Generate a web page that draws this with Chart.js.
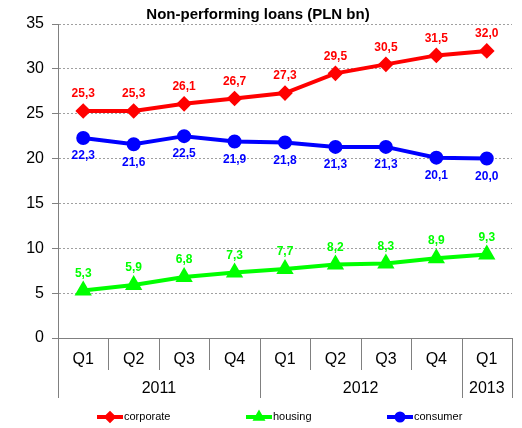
<!DOCTYPE html>
<html>
<head>
<meta charset="utf-8">
<script src="https://cdn.jsdelivr.net/npm/chart.js@4"></script>
<style>
  html, body { margin: 0; padding: 0; background: #fff; }
  #wrap { width: 522px; height: 428px; }
</style>
</head>
<body>
<div id="wrap"><canvas id="c" width="522" height="428"></canvas></div>
<script>
// Non-performing loans by segment, PLN bn
const quarters = ['Q1', 'Q2', 'Q3', 'Q4', 'Q1', 'Q2', 'Q3', 'Q4', 'Q1'];
const years = ['2011', '2012', '2013'];
const yearSpans = [4, 4, 1];
const corporate = [25.3, 25.3, 26.1, 26.7, 27.3, 29.5, 30.5, 31.5, 32.0];
const housing = [5.3, 5.9, 6.8, 7.3, 7.7, 8.2, 8.3, 8.9, 9.3];
const consumer = [22.3, 21.6, 22.5, 21.9, 21.8, 21.3, 21.3, 20.1, 20.0];
const yTicks = [0, 5, 10, 15, 20, 25, 30, 35];

const FONT = '"Liberation Sans", Arial, sans-serif';
const RED = '#ff0000', GREEN = '#00ff00', BLUE = '#0000ff';
const AXIS = '#808080';

const fmt = v => v.toFixed(1).replace('.', ',');

// value labels: above or below each point
const valueLabels = {
  id: 'valueLabels',
  afterDatasetsDraw(chart) {
    const ctx = chart.ctx;
    ctx.save();
    ctx.font = 'bold 12px ' + FONT;
    ctx.textAlign = 'center';
    ctx.textBaseline = 'middle';
    chart.data.datasets.forEach((ds, i) => {
      const meta = chart.getDatasetMeta(i);
      ctx.fillStyle = ds.borderColor;
      meta.data.forEach((pt, j) => {
        const dy = ds.labelPos === 'below' ? 18 : -17;
        ctx.fillText(fmt(ds.data[j]), pt.x, pt.y + dy);
      });
    });
    ctx.restore();
  }
};

// title, two-level category axis and legend
const frame = {
  id: 'frame',
  afterDraw(chart) {
    const ctx = chart.ctx;
    const x = chart.scales.x;
    const area = chart.chartArea;
    const bottom = area.bottom;
    ctx.save();

    // title
    ctx.fillStyle = '#000';
    ctx.font = 'bold 15px ' + FONT;
    ctx.textAlign = 'center';
    ctx.textBaseline = 'middle';
    ctx.fillText('Non-performing loans (PLN bn)', 258, 15);

    // x axis line
    ctx.strokeStyle = AXIS;
    ctx.lineWidth = 1;
    ctx.beginPath();
    ctx.moveTo(area.left, bottom + 0.5);
    ctx.lineTo(area.right, bottom + 0.5);
    ctx.stroke();

    const n = quarters.length;
    const half = (x.getPixelForValue(1) - x.getPixelForValue(0)) / 2;
    const edge = i => Math.round(x.getPixelForValue(i) - half) + 0.5;

    // quarter separators
    const yearEdges = [0];
    yearSpans.reduce((a, s) => { yearEdges.push(a + s); return a + s; }, 0);
    for (let i = 0; i <= n; i++) {
      const isYear = yearEdges.includes(i);
      ctx.beginPath();
      ctx.moveTo(edge(i), bottom);
      ctx.lineTo(edge(i), isYear ? bottom + 60 : bottom + 32);
      ctx.stroke();
    }

    // quarter labels
    ctx.fillStyle = '#000';
    ctx.font = '16px ' + FONT;
    quarters.forEach((q, i) => {
      ctx.fillText(q, x.getPixelForValue(i), bottom + 22);
    });

    // year labels (clipped at the bottom of the axis block)
    ctx.save();
    ctx.beginPath();
    ctx.rect(0, bottom, chart.width, 59);
    ctx.clip();
    let start = 0;
    years.forEach((yr, k) => {
      const end = start + yearSpans[k] - 1;
      const cx = (x.getPixelForValue(start) + x.getPixelForValue(end)) / 2;
      ctx.fillText(yr, cx, bottom + 51);
      start = end + 1;
    });
    ctx.restore();

    // legend
    const items = [
      { x: 97, ds: 0 },
      { x: 246, ds: 1 },
      { x: 387, ds: 2 }
    ];
    const ly = 417;
    items.forEach(it => {
      const ds = chart.data.datasets[it.ds];
      ctx.strokeStyle = ds.borderColor;
      ctx.fillStyle = ds.borderColor;
      ctx.lineWidth = 4;
      ctx.beginPath();
      ctx.moveTo(it.x, ly);
      ctx.lineTo(it.x + 26, ly);
      ctx.stroke();
      Chart.helpers.drawPoint(ctx, { pointStyle: ds.pointStyle, radius: 3.5, borderWidth: 1 }, it.x + 13, ly);
      ctx.fillStyle = '#000';
      ctx.font = '11px ' + FONT;
      ctx.textAlign = 'left';
      ctx.fillText(ds.label, it.x + 27, ly);
    });

    ctx.restore();
  }
};

new Chart(document.getElementById('c'), {
  type: 'line',
  data: {
    labels: quarters,
    datasets: [
      {
        label: 'corporate', data: corporate, borderColor: RED, backgroundColor: RED,
        pointStyle: 'rectRot', pointRadius: 5, borderWidth: 4, labelPos: 'above'
      },
      {
        label: 'housing', data: housing, borderColor: GREEN, backgroundColor: GREEN,
        pointStyle: 'triangle', pointRadius: 6, borderWidth: 4, labelPos: 'above'
      },
      {
        label: 'consumer', data: consumer, borderColor: BLUE, backgroundColor: BLUE,
        pointStyle: 'circle', pointRadius: 5, borderWidth: 4, labelPos: 'below'
      }
    ]
  },
  options: {
    responsive: false,
    animation: false,
    layout: { padding: { top: 24, right: 10, bottom: 90, left: 0 } },
    plugins: { legend: { display: false }, title: { display: false }, tooltip: { enabled: false } },
    elements: { line: { tension: 0 }, point: { borderWidth: 1, hoverRadius: 5 } },
    scales: {
      x: { type: 'category', offset: true, display: false },
      y: {
        min: 0, max: 35,
        afterFit(s) { s.width = 58; },
        afterBuildTicks(s) { s.ticks = yTicks.map(v => ({ value: v })); },
        ticks: { font: { size: 16, family: FONT }, color: '#000', padding: 8 },
        grid: { color: '#a0a0a0', tickColor: AXIS, tickLength: 6, tickBorderDash: [] },
        border: { display: true, color: AXIS, dash: [2, 2] }
      }
    }
  },
  plugins: [valueLabels, frame]
});
</script>
</body>
</html>
